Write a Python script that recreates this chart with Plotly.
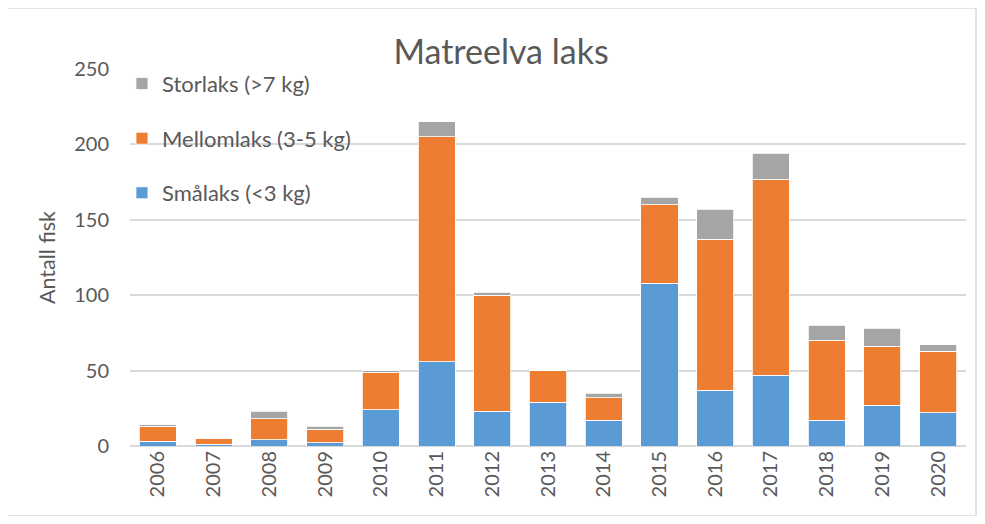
import plotly.graph_objects as go

years = ['2006', '2007', '2008', '2009', '2010', '2011', '2012', '2013',
         '2014', '2015', '2016', '2017', '2018', '2019', '2020']
smalaks = [3, 1, 4, 2, 24, 56, 23, 29, 17, 108, 37, 47, 17, 27, 22]
mellomlaks = [10, 4, 14, 9, 25, 149, 77, 21, 15, 52, 100, 130, 53, 39, 41]
storlaks = [1, 0, 5, 2, 1, 10, 2, 0, 3, 5, 20, 17, 10, 12, 4]

series = [
    ('Smålaks (<3 kg)', smalaks, '#5B9BD5', 3),
    ('Mellomlaks (3-5 kg)', mellomlaks, '#ED7D31', 2),
    ('Storlaks (>7 kg)', storlaks, '#A5A5A5', 1),
]

font = 'Lato, "Open Sans", sans-serif'
grey_txt = '#595959'

fig = go.Figure()
for name, vals, col, rank in series:
    fig.add_trace(go.Bar(
        x=years, y=vals, name=name, legendgroup=name, legendrank=rank,
        marker=dict(color=col, line=dict(color='white', width=0.8)),
    ))

# page body has an 8px margin, so the figure is 16px smaller than the window
fig.update_layout(
    barmode='stack',
    bargap=0.335,
    width=969, height=508,
    margin=dict(l=122, r=11, t=61, b=70),
    paper_bgcolor='white', plot_bgcolor='white',
    font=dict(family=font, size=20, color=grey_txt),
    title=dict(text='Matreelva laks', x=0.5088, xref='container', y=0.913,
               yref='container', xanchor='center', yanchor='middle',
               font=dict(family=font, size=34, color=grey_txt)),
    legend=dict(x=-0.0096, y=1.0165, xanchor='left', yanchor='top',
                traceorder='grouped', tracegroupgap=23,
                bgcolor='rgba(0,0,0,0)', font=dict(size=22, color=grey_txt)),
    xaxis=dict(tickangle=-90, showgrid=False, ticks='', showline=False,
               tickfont=dict(size=20, color=grey_txt)),
    yaxis=dict(range=[0, 250], dtick=50, showgrid=True, gridcolor='#D9D9D9',
               gridwidth=1.5, zeroline=True, zerolinecolor='#D9D9D9',
               zerolinewidth=1.5, ticks='', ticklabelstandoff=20,
               title=dict(text='Antall fisk', standoff=12,
                          font=dict(size=21.5, color=grey_txt)),
               tickfont=dict(size=20, color=grey_txt)),
    shapes=[dict(type='rect', xref='paper', yref='paper',
                 x0=-0.1495, x1=1.012, y0=-0.1857, y1=1.1618,
                 line=dict(color='#D9D9D9', width=1.5), layer='below')],
)

fig.write_html('out.html')
